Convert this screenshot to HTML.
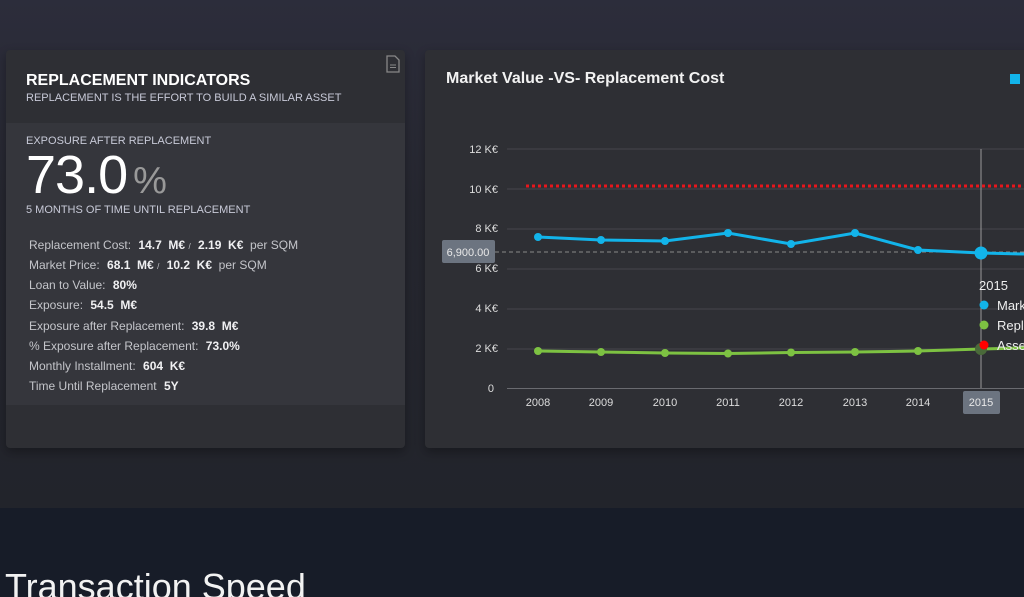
<!DOCTYPE html>
<html><head><meta charset="utf-8"><style>
*{margin:0;padding:0;box-sizing:border-box}
html{overflow:hidden;width:1024px;height:597px}
body{width:1024px;height:597px;overflow:hidden;position:relative;font-family:"Liberation Sans",sans-serif;background:linear-gradient(#2c2d3b 0px,#262730 200px,#22242b 508px);}
.bot{position:absolute;left:0;top:508px;width:1024px;height:89px;background:#171c28}
.card{position:absolute;background:#2e2f34;border-radius:4px;box-shadow:0 4px 10px rgba(0,0,0,.3)}
.t{position:absolute;white-space:nowrap}
.row{position:absolute;left:29px;font-size:12px;color:#c4c5ca;white-space:nowrap}
.row b{color:#f0f0f2;margin-left:4px}
</style></head><body>
<div class="bot"></div>
<div class="t" style="left:5px;top:567px;font-size:36px;line-height:40px;color:#f2f2f2">Transaction Speed</div>

<div class="card" style="left:6px;top:50px;width:399px;height:398px">
  <div style="position:absolute;left:0;top:73px;width:399px;height:282px;background:#35363c"></div>
  <svg style="position:absolute;left:380px;top:5px" width="14" height="18"><path d="M1 1h8l4 4v12H1z" fill="none" stroke="#888" stroke-width="1.3"/><path d="M4 10h6M4 12.5h6" stroke="#888"/></svg>
  <div class="t" style="left:20px;top:22px;font-size:16px;font-weight:bold;color:#fff">REPLACEMENT INDICATORS</div>
  <div class="t" style="left:20px;top:42px;font-size:11px;color:#c8cad8">REPLACEMENT IS THE EFFORT TO BUILD A SIMILAR ASSET</div>
  <div class="t" style="left:20px;top:85px;font-size:11px;color:#c8cad8">EXPOSURE AFTER REPLACEMENT</div>
  <div class="t" style="left:20px;top:94px;font-size:54px;color:#fff;letter-spacing:-1px">73.0<span style="font-size:38px;color:#999;margin-left:6px">%</span></div>
  <div class="t" style="left:20px;top:154px;font-size:11px;color:#c8cad8">5 MONTHS OF TIME UNTIL REPLACEMENT</div>
</div>
<div class="row" style="top:238px">Replacement Cost: <b>14.7 &nbsp;M€</b> <span style="font-size:8px">/</span> <b>2.19 &nbsp;K€</b> &nbsp;per SQM</div>
<div class="row" style="top:258px">Market Price: <b>68.1 &nbsp;M€</b> <span style="font-size:8px">/</span> <b>10.2 &nbsp;K€</b> &nbsp;per SQM</div>
<div class="row" style="top:278px">Loan to Value: <b>80%</b></div>
<div class="row" style="top:298px">Exposure: <b>54.5 &nbsp;M€</b></div>
<div class="row" style="top:319px">Exposure after Replacement: <b>39.8 &nbsp;M€</b></div>
<div class="row" style="top:339px">% Exposure after Replacement: <b>73.0%</b></div>
<div class="row" style="top:359px">Monthly Installment: <b>604 &nbsp;K€</b></div>
<div class="row" style="top:379px">Time Until Replacement <b>5Y</b></div>

<div class="card" style="left:425px;top:50px;width:610px;height:398px"></div>
<div class="t" style="left:446px;top:70px;font-size:16px;font-weight:bold;color:#f2f2f2">Market Value -VS- Replacement Cost</div>
<div style="position:absolute;left:1010px;top:74px;width:10px;height:10px;background:#12b4ea"></div>

<svg style="position:absolute;left:0;top:0" width="1024" height="597" font-family="Liberation Sans, sans-serif">
<g stroke="#45464c" stroke-width="1">
<line x1="507" y1="149" x2="1024" y2="149"/><line x1="507" y1="189" x2="1024" y2="189"/><line x1="507" y1="229" x2="1024" y2="229"/><line x1="507" y1="269" x2="1024" y2="269"/><line x1="507" y1="309" x2="1024" y2="309"/><line x1="507" y1="349" x2="1024" y2="349"/>
</g>
<line x1="507" y1="388.5" x2="1024" y2="388.5" stroke="#6a6b70"/>
<g fill="#ddd" font-size="11" text-anchor="end">
<text x="498" y="153">12 K€</text><text x="498" y="193">10 K€</text><text x="498" y="232">8 K€</text><text x="498" y="272">6 K€</text><text x="498" y="312">4 K€</text><text x="498" y="352">2 K€</text><text x="494" y="392">0</text>
</g>
<line x1="526" y1="186" x2="1024" y2="186" stroke="#e8161c" stroke-width="3" stroke-dasharray="3,3"/>
<line x1="495" y1="252" x2="1024" y2="252" stroke="#888" stroke-width="1" stroke-dasharray="4,3"/>
<rect x="442" y="240" width="53" height="23" rx="2" fill="#6c7480"/>
<text x="468" y="256" fill="#e8e8e8" font-size="11" text-anchor="middle">6,900.00</text>
<line x1="981" y1="149" x2="981" y2="388" stroke="#9a9a9a"/>
<polyline points="538,237 601,240 665,241 728,233 791,244 855,233 918,250 981,253 1024,254" fill="none" stroke="#12b4ea" stroke-width="3"/>
<g fill="#12b4ea"><circle cx="538" cy="237" r="4"/><circle cx="601" cy="240" r="4"/><circle cx="665" cy="241" r="4"/><circle cx="728" cy="233" r="4"/><circle cx="791" cy="244" r="4"/><circle cx="855" cy="233" r="4"/><circle cx="918" cy="250" r="4"/><circle cx="981" cy="253" r="6.5"/></g>
<polyline points="538,351 601,352 665,353 728,353.5 791,352.5 855,352 918,351 981,349 1024,348" fill="none" stroke="#7dc242" stroke-width="3"/>
<g fill="#7dc242"><circle cx="538" cy="351" r="4"/><circle cx="601" cy="352" r="4"/><circle cx="665" cy="353" r="4"/><circle cx="728" cy="353.5" r="4"/><circle cx="791" cy="352.5" r="4"/><circle cx="855" cy="352" r="4"/><circle cx="918" cy="351" r="4"/><circle cx="981" cy="349" r="6" fill="#4a6a3a"/></g>
<g fill="#ddd" font-size="11" text-anchor="middle">
<text x="538" y="406">2008</text><text x="601" y="406">2009</text><text x="665" y="406">2010</text><text x="728" y="406">2011</text><text x="791" y="406">2012</text><text x="855" y="406">2013</text><text x="918" y="406">2014</text>
</g>
<rect x="963" y="391" width="37" height="23" rx="2" fill="#6c7480"/>
<text x="981" y="406" fill="#e8e8e8" font-size="11" text-anchor="middle">2015</text>
<text x="979" y="290" fill="#eee" font-size="13">2015</text>
<circle cx="984" cy="305" r="4.5" fill="#12b4ea"/><text x="997" y="310" fill="#eee" font-size="13">Market</text>
<circle cx="984" cy="325" r="4.5" fill="#7dc242"/><text x="997" y="330" fill="#eee" font-size="13">Replacement</text>
<circle cx="984" cy="345" r="4.5" fill="#f00"/><text x="997" y="350" fill="#eee" font-size="13">Asset</text>
</svg>
</body></html>
